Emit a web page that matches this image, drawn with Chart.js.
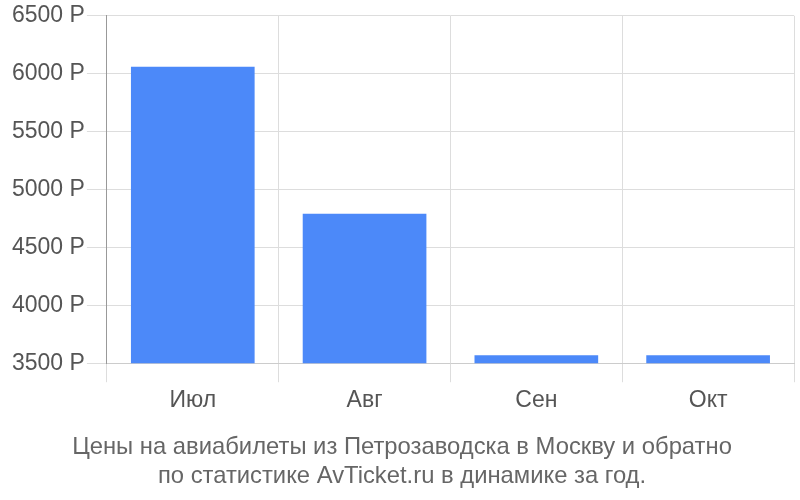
<!DOCTYPE html>
<html><head><meta charset="utf-8">
<script src="https://cdn.jsdelivr.net/npm/chart.js@4"></script>
<style>html,body{margin:0;padding:0;background:#fff}#wrap{width:800px;height:500px}</style>
</head><body><div id="wrap"><canvas id="c"></canvas></div>
<script>
const categories = ["Июл", "Авг", "Сен", "Окт"];
const prices = [6060, 4790, 3570, 3570];
const yTicks = [3500, 4000, 4500, 5000, 5500, 6000, 6500];
const titleLines = ["Цены на авиабилеты из Петрозаводска в Москву и обратно", "по статистике AvTicket.ru в динамике за год."];

new Chart(document.getElementById('c'), {
  type: 'bar',
  data: { labels: categories, datasets: [{ data: prices, backgroundColor: '#4c89f9', borderWidth: 0 }] },
  options: {
    responsive: true, maintainAspectRatio: false, animation: false,
    layout: { padding: { top: 2, right: 6, left: 10, bottom: 10 } },
    plugins: {
      legend: { display: false }, tooltip: { enabled: false },
      title: { display: true, position: 'bottom', text: titleLines, color: '#666',
        font: { family: 'Liberation Sans', size: 23.8, weight: 'normal', lineHeight: 1.18 }, padding: { top: 14, bottom: 0 } }
    },
    scales: {
      x: {
        grid: { color: '#ddd', tickLength: 19, drawOnChartArea: true, offset: true },
        border: { color: '#ccc' },
        ticks: { color: '#555', font: { family: 'Liberation Sans', size: 23 }, padding: 5 }
      },
      y: {
        min: 3500, max: 6500,
        afterBuildTicks: (axis) => { axis.ticks = yTicks.map(v => ({ value: v })); },
        grid: { color: '#ddd', tickLength: 20 },
        border: { color: '#999' },
        ticks: { color: '#555', font: { family: 'Liberation Sans', size: 23 }, padding: 2, callback: v => v + ' Р' }
      }
    }
  }
});
</script></body></html>
